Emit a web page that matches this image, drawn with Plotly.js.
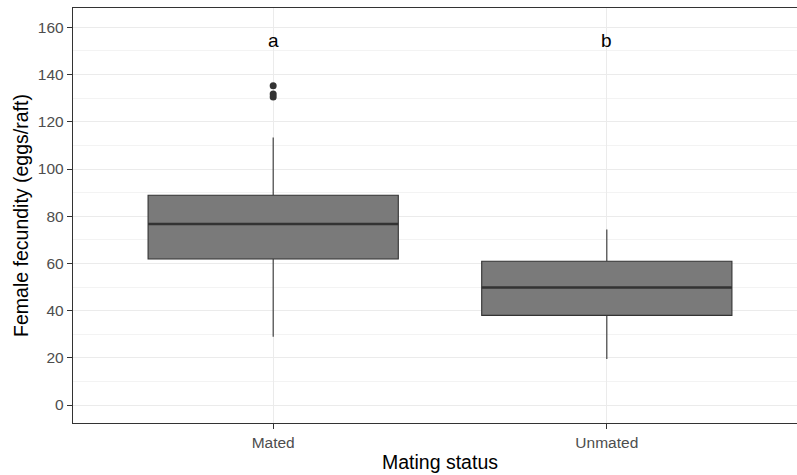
<!DOCTYPE html>
<html>
<head>
<meta charset="utf-8">
<script src="https://cdn.plot.ly/plotly-3.0.1.min.js"></script>
<style>
html, body { margin: 0; padding: 0; overflow: hidden; background: #fff; }
#chart { width: 810px; height: 475px; }
</style>
</head>
<body>
<div id="chart"></div>
<script>
const categories = ['Mated', 'Unmated'];
const lowerWhisker = [28.9, 19.5];
const q1 = [61.9, 38.0];
const median = [76.7, 49.8];
const q3 = [88.9, 60.9];
const upperWhisker = [113.3, 74.4];
const outlierCategory = ['Mated', 'Mated', 'Mated'];
const outlierValues = [135.3, 131.8, 130.5];
const letters = ['a', 'b'];
const letterY = 154.5;
const yTicks = [0, 20, 40, 60, 80, 100, 120, 140, 160];

const boxWidth = 0.75;

const traces = [
  {
    type: 'box',
    x: categories,
    q1: q1,
    median: median,
    q3: q3,
    lowerfence: lowerWhisker,
    upperfence: upperWhisker,
    width: boxWidth,
    whiskerwidth: 0,
    fillcolor: '#7a7a7a',
    line: { color: '#333333', width: 1.1 },
    boxpoints: false,
    hoverinfo: 'skip',
    showlegend: false
  },
  {
    type: 'scatter',
    mode: 'markers',
    x: outlierCategory,
    y: outlierValues,
    marker: { color: '#333333', size: 7 },
    hoverinfo: 'skip',
    showlegend: false
  }
];

const shapes = categories.map((c, i) => ({
  type: 'line', xref: 'x', yref: 'y',
  x0: i - boxWidth / 2, x1: i + boxWidth / 2,
  y0: median[i], y1: median[i],
  line: { color: '#333333', width: 2.6 }
}));

const annotations = categories.map((c, i) => ({
  x: c, y: letterY, xref: 'x', yref: 'y',
  text: letters[i], showarrow: false,
  font: { family: 'Liberation Sans, Arial, sans-serif', size: 19, color: '#000000' }
}));

const layout = {
  width: 810,
  height: 475,
  margin: { l: 73, r: 3, t: 8, b: 52 },
  paper_bgcolor: '#ffffff',
  plot_bgcolor: '#ffffff',
  font: { family: 'Liberation Sans, Arial, sans-serif' },
  xaxis: {
    type: 'category',
    range: [-0.6, 1.6],
    showgrid: true,
    gridcolor: '#ebebeb',
    gridwidth: 1,
    zeroline: false,
    showline: true,
    mirror: true,
    linecolor: '#333333',
    linewidth: 1.2,
    ticks: 'outside',
    ticklen: 5,
    tickcolor: '#333333',
    tickfont: { size: 15.5, color: '#4d4d4d' },
    title: { text: 'Mating status', font: { size: 19.5, color: '#000000' }, standoff: 5 }
  },
  yaxis: {
    range: [-7.6, 168.2],
    tickvals: yTicks,
    showgrid: true,
    gridcolor: '#ebebeb',
    gridwidth: 1,
    minor: { tick0: 10, dtick: 20, showgrid: true, gridcolor: '#ebebeb', gridwidth: 0.6, ticks: '' },
    zeroline: false,
    showline: true,
    mirror: true,
    linecolor: '#333333',
    linewidth: 1.2,
    ticks: 'outside',
    ticklen: 5,
    tickcolor: '#333333',
    tickfont: { size: 15.5, color: '#4d4d4d' },
    title: { text: 'Female fecundity (eggs/raft)', font: { size: 19.5, color: '#000000' }, standoff: 4 }
  },
  shapes: shapes,
  annotations: annotations,
  showlegend: false
};

Plotly.newPlot('chart', traces, layout, { displayModeBar: false, staticPlot: true });
</script>
</body>
</html>
